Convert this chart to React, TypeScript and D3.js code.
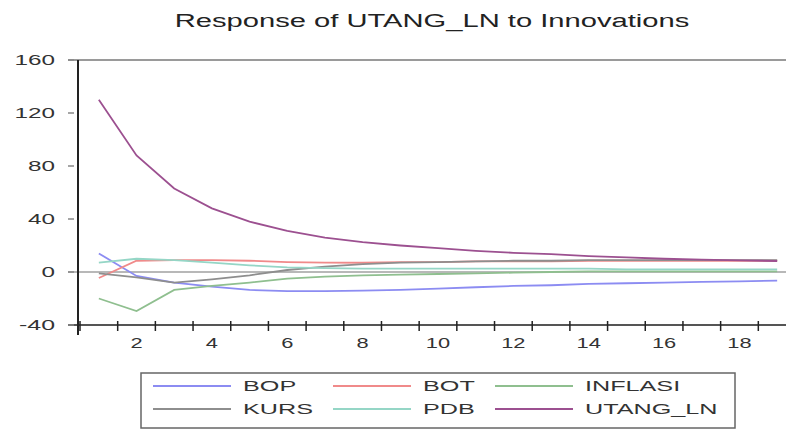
import React from 'react';
import * as d3 from 'd3';

const periods = d3.range(1, 20);

const BOP = [14, -3, -8, -11, -13.5, -14.5, -14.5, -14, -13.5, -12.5, -11.5, -10.5, -10, -9, -8.5, -8, -7.5, -7, -6.5];
const BOT = [-4.5, 8.5, 9, 9, 8.5, 7.5, 7, 7, 7.5, 7.5, 8, 8, 8, 8.5, 8.5, 8.5, 8.5, 8.5, 8.5];
const INFLASI = [-20, -29.5, -13.5, -10.5, -8, -5, -3.5, -2.5, -2, -1.5, -1, -0.5, 0, 0.5, 0.5, 0.5, 0.5, 0.5, 0.5];
const KURS = [-1, -4, -8, -5.5, -2.5, 1.5, 4, 6, 7, 7.5, 8, 8.5, 8.5, 9, 9, 9, 9, 9, 9];
const PDB = [7, 10, 9, 7, 5, 3.5, 3, 2.5, 2.5, 2.5, 2.5, 2.5, 2.5, 2.5, 2, 2, 2, 2, 2];
const UTANG_LN = [130, 88, 63, 48, 38, 31, 26, 22.5, 20, 18, 16, 14.5, 13.5, 12, 11, 10, 9.3, 8.8, 8.3];

const seriesNames = ['BOP', 'BOT', 'INFLASI', 'KURS', 'PDB', 'UTANG_LN'];
const seriesValues = [BOP, BOT, INFLASI, KURS, PDB, UTANG_LN];
const seriesColors = ['#8c8cf2', '#f08a8a', '#8fbf8f', '#8e8e8e', '#95d6c6', '#9c5090'];

const yTicks = [-40, 0, 40, 80, 120, 160];
const xTickLabels = [2, 4, 6, 8, 10, 12, 14, 16, 18];

const W = 786;
const H = 430;

// width of a stretched number label (the picture was widened sideways)
const numWidth = (s: string) => s.split('').reduce((w, c) => w + (c === '-' ? 9 : 13.5), 0);

export default function App() {
  const x = d3.scaleLinear().domain([0.5, 19.5]).range([80, 796]);
  const y = d3.scaleLinear().domain([-40, 160]).range([325, 60]);

  const line = d3.line<number>()
    .x((_, i) => x(periods[i]))
    .y(d => y(d));

  const stretched = (px: number, py: number, sx = 1.6) => `translate(${px},${py}) scale(${sx},1)`;

  // legend layout: 3 columns, 2 rows
  const legCols = [153, 333, 495];
  const legRows = [386, 409];

  return (
    <svg width={W} height={H} style={{ position: 'absolute', left: 0, top: 0, background: '#fff' }}
      fontFamily="'Liberation Sans', Arial, sans-serif">
      {/* title */}
      <text transform={stretched(432, 27, 1.62)} textAnchor="middle" fontSize={18} fill="#222">
        Response of UTANG_LN to Innovations
      </text>

      {/* frame */}
      <line x1={68} x2={W} y1={y(160)} y2={y(160)} stroke="#9a9a9a" strokeWidth={2} />
      <line x1={68} x2={W} y1={y(0)} y2={y(0)} stroke="#a0a0a0" strokeWidth={1.5} />

      {/* series */}
      {seriesValues.map((vals, i) => (
        <path key={seriesNames[i]} d={line(vals) || ''} fill="none"
          stroke={seriesColors[i]} strokeWidth={1.8} />
      ))}

      {/* axes */}
      <line x1={68} x2={W} y1={y(-40)} y2={y(-40)} stroke="#555" strokeWidth={2} />
      <line x1={78} x2={78} y1={y(160)} y2={335} stroke="#222" strokeWidth={2} />

      {yTicks.map(t => {
        const s = String(t);
        const w = numWidth(s);
        return (
          <g key={t}>
            <line x1={68} x2={74} y1={y(t)} y2={y(t)} stroke="#888" strokeWidth={1.5} />
            <text x={55 - w} y={y(t) + 5} textLength={w} lengthAdjust="spacingAndGlyphs"
              fontSize={15} fill="#333">
              {s}
            </text>
          </g>
        );
      })}

      {d3.range(0, 20).map(k => (
        <line key={k} x1={x(k + 0.5)} x2={x(k + 0.5)} y1={321} y2={331} stroke="#222" strokeWidth={1.5} />
      ))}
      {xTickLabels.map(t => {
        const s = String(t);
        const w = numWidth(s) * 0.9;
        return (
          <text key={t} x={x(t) - w / 2} y={348} textLength={w} lengthAdjust="spacingAndGlyphs"
            fontSize={15} fill="#333">
            {s}
          </text>
        );
      })}

      {/* legend */}
      <rect x={141} y={373} width={594} height={55} fill="#fff" stroke="#666" strokeWidth={1.5} />
      {seriesNames.map((name, i) => {
        const cx = legCols[i % 3];
        const cy = legRows[Math.floor(i / 3)];
        return (
          <g key={name}>
            <line x1={cx} x2={cx + 78} y1={cy} y2={cy} stroke={seriesColors[i]} strokeWidth={2} />
            <text transform={stretched(cx + 90, cy + 5, 1.68)} fontSize={15} fill="#333">
              {name}
            </text>
          </g>
        );
      })}
    </svg>
  );
}
